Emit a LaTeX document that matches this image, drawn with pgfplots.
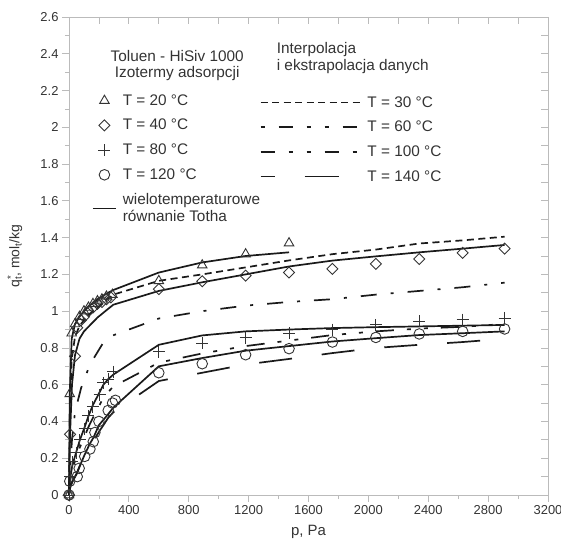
\documentclass[border=0pt]{standalone}
\usepackage{fontspec}
\setmainfont{Liberation Sans}
\usepackage{pgfplots}
\usepackage{pgfplotstable}
\pgfplotsset{compat=1.18}

\definecolor{txt}{HTML}{333333}
\definecolor{frame}{HTML}{BBBBBB}
\definecolor{ink}{HTML}{1A1A1A}

% measured points
\pgfplotstableread{
p q
0 0
5 0.55
18 0.88
40 0.93
70 0.97
100 1.00
130 1.02
160 1.04
190 1.055
220 1.065
250 1.08
290 1.09
600 1.165
890 1.25
1180 1.31
1470 1.37
}\mtwenty
\pgfplotstableread{
p q
0 0
7 0.33
40 0.755
55 0.91
80 0.95
100 0.97
130 1.00
160 1.02
190 1.04
220 1.05
250 1.065
280 1.075
600 1.12
890 1.163
1180 1.193
1470 1.21
1760 1.23
2050 1.257
2340 1.284
2630 1.317
2910 1.34
}\mforty
\pgfplotstableread{
p q
0 0
8 0.10
22 0.18
47 0.23
73 0.30
105 0.36
130 0.43
160 0.48
205 0.545
230 0.61
262 0.63
296 0.67
600 0.78
890 0.825
1180 0.855
1470 0.88
1760 0.90
2050 0.926
2340 0.944
2630 0.954
2910 0.963
}\meighty
\pgfplotstableread{
p q
0 0
5 0.075
55 0.10
68 0.145
105 0.21
140 0.25
162 0.29
173 0.34
200 0.40
262 0.46
291 0.50
310 0.515
600 0.665
890 0.714
1180 0.763
1470 0.796
1760 0.832
2050 0.857
2340 0.876
2630 0.89
2910 0.903
}\monetwenty

% Toth fits and interpolations
\pgfplotstableread{
p q
0 0
5 0.55
18 0.85
40 0.93
70 0.97
100 1.00
130 1.025
160 1.045
190 1.065
220 1.08
250 1.095
296 1.115
600 1.21
890 1.265
1180 1.30
1470 1.32
}\ftwenty
\pgfplotstableread{
p q
0 0
5 0.42
18 0.74
40 0.86
70 0.92
100 0.95
130 0.98
160 1.00
190 1.02
220 1.04
250 1.06
296 1.09
600 1.165
890 1.20
1180 1.238
1470 1.276
1760 1.31
2050 1.335
2340 1.368
2630 1.385
2910 1.405
}\fthirty
\pgfplotstableread{
p q
0 0
7 0.33
20 0.60
40 0.76
70 0.85
100 0.89
130 0.915
160 0.94
190 0.965
220 0.985
250 1.005
296 1.035
600 1.11
890 1.157
1180 1.20
1470 1.243
1760 1.275
2050 1.298
2340 1.32
2630 1.34
2910 1.36
}\fforty
\pgfplotstableread{
p q
0 0
10 0.18
20 0.30
40 0.45
80 0.58
140 0.71
230 0.83
300 0.87
600 0.96
890 1.00
1180 1.03
1470 1.05
1760 1.065
2050 1.09
2340 1.11
2630 1.13
2910 1.155
}\fsixty
\pgfplotstableread{
p q
0 0
8 0.09
22 0.16
47 0.23
73 0.30
105 0.37
130 0.43
160 0.49
205 0.56
230 0.60
262 0.63
296 0.655
600 0.817
890 0.868
1180 0.89
1470 0.90
1760 0.908
2050 0.913
2340 0.917
2630 0.921
2910 0.925
}\feighty
\pgfplotstableread{
p q
0 0
8 0.08
22 0.14
47 0.20
73 0.26
105 0.32
130 0.37
160 0.42
205 0.49
230 0.53
262 0.56
296 0.59
600 0.72
890 0.77
1180 0.81
1470 0.84
1760 0.87
2050 0.89
2340 0.905
2630 0.915
2910 0.93
}\fhundred
\pgfplotstableread{
p q
0 0
5 0.05
55 0.12
68 0.15
105 0.22
140 0.28
162 0.31
173 0.33
200 0.38
262 0.44
296 0.475
600 0.70
890 0.745
1180 0.785
1470 0.81
1760 0.835
2050 0.853
2340 0.87
2630 0.88
2910 0.89
}\fonetwenty
\pgfplotstableread{
p q
0 0
8 0.04
22 0.07
47 0.11
73 0.16
105 0.21
130 0.25
160 0.29
205 0.35
230 0.38
262 0.42
296 0.45
600 0.62
890 0.665
1180 0.71
1470 0.74
1760 0.772
2050 0.80
2340 0.817
2630 0.832
2910 0.85
}\fonefourty

\pgfplotsset{
  frameaxis/.style={
    width=479bp, height=478bp, scale only axis,
    xmin=0, xmax=3200, ymin=0, ymax=2.6,
    axis line style={frame, line width=0.8bp},
    tick style={frame, line width=0.8bp},
    xtick={0,400,...,3200}, minor x tick num=1,
    ytick={0,0.2,0.4,0.6,0.8,1,1.2,1.4,1.6,1.8,2,2.2,2.4,2.6}, minor y tick num=1,
  },
  meas/.style={only marks, draw=txt, line width=0.9bp, mark options={solid, fill=none}},
  dia/.style={meas, mark=square, mark size=3.9bp, mark options={solid, fill=none, rotate=45}},
  fit/.style={no marks, ink, line width=1.7bp},
}
\tikzset{lgd/.style={font=\fontsize{15.4}{17}\selectfont, text=txt}}

\begin{document}
\begin{tikzpicture}
\begin{axis}[
  frameaxis,
  clip=false,
  axis x line*=bottom, axis y line*=left,
  tick align=outside,
  major tick length=7bp, minor tick length=4bp,
  tick label style={font=\fontsize{13}{15}\selectfont, text=txt},
  /pgf/number format/assume math mode=true,
  /pgf/number format/1000 sep={},
  yticklabel style={/pgf/number format/fixed, /pgf/number format/precision=1},
  xlabel={p, Pa},
  ylabel={q\rlap{\textsuperscript{*}}\textsubscript{t}, mol\textsubscript{t}/kg},
  every axis x label/.style={at={(axis description cs:0.5,-0.063)}, anchor=north,
    inner sep=0pt, font=\fontsize{15}{17}\selectfont, text=txt},
  every axis y label/.style={at={(axis description cs:-0.113,0.5)}, rotate=90, anchor=center,
    font=\fontsize{14}{16}\selectfont, text=txt},
  legend style={at={(axis cs:153,2.19)}, anchor=north west, draw=none, fill=none,
    lgd, row sep=8.5bp, column sep=4bp, inner sep=0pt, nodes={inner sep=2bp},
    cells={anchor=west}},
  legend image code/.code={\draw[mark repeat=2,mark phase=2,#1]
    plot coordinates {(0bp,0bp) (11.5bp,0bp) (23bp,0bp)};},
]
\addplot[fit, forget plot] table {\ftwenty};
\addplot[fit, dash pattern=on 7bp off 4.5bp, forget plot] table {\fthirty};
\addplot[fit, forget plot] table {\fforty};
\addplot[fit, dash pattern=on 16bp off 14bp on 3bp off 14bp, forget plot] table {\fsixty};
\addplot[fit, forget plot] table {\feighty};
\addplot[fit, dash pattern=on 18bp off 13bp on 4bp off 13bp on 4bp off 13bp, forget plot] table {\fhundred};
\addplot[fit, forget plot] table {\fonetwenty};
\addplot[fit, dash pattern=on 33bp off 30bp, forget plot] table {\fonefourty};

\addplot[meas, mark=triangle, mark size=5.5bp, forget plot] table {\mtwenty};
\addplot[dia, forget plot] table {\mforty};
\addplot[meas, mark=+, mark size=6bp, forget plot] table {\meighty};
\addplot[meas, mark=o, mark size=5.3bp, forget plot] table {\monetwenty};

\addlegendimage{meas, mark=triangle, mark size=5.5bp}
\addlegendentry{T = 20 °C}
\addlegendimage{dia}
\addlegendentry{T = 40 °C}
\addlegendimage{meas, mark=+, mark size=6bp}
\addlegendentry{T = 80 °C}
\addlegendimage{meas, mark=o, mark size=5.3bp}
\addlegendentry{T = 120 °C}
\addlegendimage{fit}
\addlegendentry{\shortstack[l]{wielotemperaturowe\\równanie Totha}}

\node[lgd, align=center, font=\fontsize{15.4}{16}\selectfont] at (axis cs:723,2.335)
  {Toluen - HiSiv 1000\\Izotermy adsorpcji};
\node[lgd, align=left, anchor=west, inner sep=0pt, font=\fontsize{15.4}{17}\selectfont]
  at (axis cs:1387,2.376) {Interpolacja\\i ekstrapolacja danych};
\end{axis}

\begin{axis}[
  frameaxis,
  axis x line*=top, axis y line*=right,
  tick align=inside,
  major tick length=7bp, minor tick length=7bp,
  xticklabels={}, yticklabels={},
  legend style={at={(axis cs:1273,2.18)}, anchor=north west, draw=none, fill=none,
    lgd, row sep=8.5bp, column sep=2bp, inner sep=0pt, nodes={inner sep=2bp},
    cells={anchor=west}},
  legend image code/.code={\draw[#1] (0bp,0bp) -- (102bp,0bp);},
]
\addlegendimage{fit, dash pattern=on 7bp off 4.5bp}
\addlegendentry{T = 30 °C}
\addlegendimage{fit, dash pattern=on 4bp off 14bp on 14bp off 14bp on 4bp off 14bp}
\addlegendentry{T = 60 °C}
\addlegendimage{fit, dash pattern=on 14bp off 14bp on 4bp off 14bp on 4bp off 14bp}
\addlegendentry{T = 100 °C}
\addlegendimage{fit, dash pattern=on 14bp off 30bp on 34bp off 30bp}
\addlegendentry{T = 140 °C}
\end{axis}
\pgfresetboundingbox
\path[use as bounding box] (-69bp,-44bp) rectangle (492bp,495bp);
\end{tikzpicture}
\end{document}
